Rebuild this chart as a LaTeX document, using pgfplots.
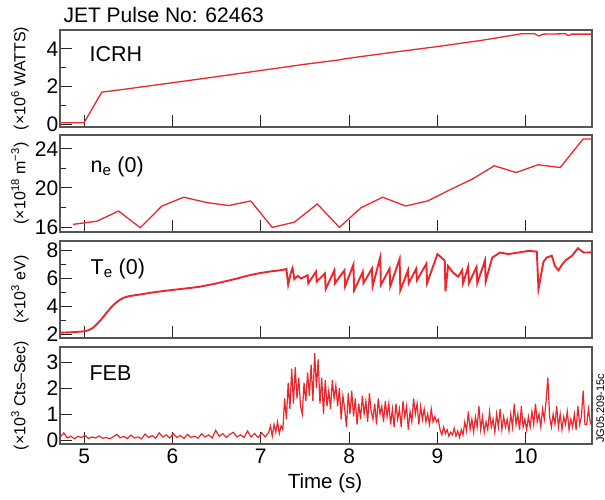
\documentclass[border=0pt]{standalone}
\usepackage{pgfplots}
\pgfplotsset{compat=1.18}
\usepackage{fontspec}
\setmainfont{Liberation Sans}
\definecolor{jetred}{RGB}{235,38,44}
\definecolor{axgray}{RGB}{85,85,85}
\pgfplotsset{
 panel/.style={
   scale only axis, width=532pt, height=97pt, anchor=south west,
   xmin=4.727, xmax=10.75, xtick={5,6,7,8,9,10},
   axis line style={axgray, line width=1.1pt},
   tick style={black!85, line width=0.9pt},
   major tick length=12pt, minor tick length=6pt,
   tick align=inside, xtick pos=bottom, ytick pos=left,
   tick label style={font=\fontsize{21}{24}\selectfont},
   yticklabel style={inner xsep=1.5pt},
   xticklabel style={inner ysep=5pt},
   /pgf/number format/assume math mode=true,
   every axis y label/.style={at={(axis description cs:0,0.5)}, xshift=-40pt, rotate=90, anchor=center, font=\fontsize{16}{18}\selectfont},
   clip=true,
 },
}
\tikzset{plab/.style={anchor=base west, font=\fontsize{21.5}{24}\selectfont}}
\begin{document}
\begin{tikzpicture}[x=1pt,y=1pt]
\useasboundingbox (0,0) rectangle (605,500);
\node[anchor=base west, inner sep=0pt, font=\fontsize{21}{24}\selectfont] at (63.3,477.3) {JET Pulse No: 62463};
% ICRH
\begin{axis}[panel, at={(60pt,373pt)}, ymin=-0.15, ymax=5.0, ytick={0,2,4}, minor ytick={1,3}, xticklabels={},
  ylabel={(×10\textsuperscript{6} WATTS)}]
\addplot[jetred, line width=1.3pt] table {
4.727 0.08
5.00 0.08
5.20 1.70
5.50 1.88
6.00 2.20
6.50 2.52
7.00 2.85
7.50 3.18
7.90 3.42
7.95 3.47
8.50 3.82
9.00 4.12
9.50 4.45
9.85 4.72
9.95 4.80
10.10 4.80
10.15 4.68
10.20 4.78
10.45 4.80
10.48 4.70
10.52 4.78
10.75 4.78
};
\node[plab] at (axis description cs:0.049,0.68) {ICRH};
\end{axis}
% ne
\begin{axis}[panel, at={(60pt,268pt)}, ymin=15.5, ymax=25.4, ytick={16,20,24}, minor ytick={18,22}, xticklabels={},
  ylabel={(×10\textsuperscript{18} m\textsuperscript{−3})}]
\addplot[jetred, line width=1.3pt] table {
4.875 16.28
5.144 16.60
5.390 17.64
5.636 15.93
5.880 18.15
6.128 19.05
6.390 18.50
6.640 18.20
6.886 18.67
7.130 15.97
7.380 16.50
7.640 18.36
7.890 15.97
8.136 17.98
8.380 19.05
8.640 18.15
8.890 18.67
9.140 19.80
9.395 20.90
9.644 22.26
9.890 21.57
10.140 22.36
10.390 22.08
10.650 25.00
10.760 25.00
};
\node[plab] at (axis description cs:0.051,0.615) {n\textsubscript{e} (0)};
\end{axis}
% Te
\begin{axis}[panel, at={(60pt,162pt)}, ymin=1.72, ymax=8.7, ytick={2,4,6,8}, minor ytick={3,5,7}, xticklabels={},
  ylabel={(×10\textsuperscript{3} eV)}]
\addplot[jetred, line width=1.9pt] table {
4.727 2.10
4.80 2.12
4.90 2.15
5.00 2.20
5.05 2.28
5.10 2.45
5.15 2.75
5.20 3.10
5.25 3.50
5.30 3.88
5.35 4.20
5.40 4.45
5.45 4.62
5.50 4.72
5.60 4.82
5.70 4.92
5.80 5.02
5.90 5.10
6.00 5.18
6.10 5.25
6.20 5.32
6.30 5.40
6.40 5.52
6.50 5.65
6.60 5.80
6.70 5.95
6.80 6.12
6.90 6.28
7.00 6.40
7.10 6.50
7.20 6.58
7.27 6.65
7.29 6.70
7.31 5.55
7.34 6.40
7.36 6.75
7.38 5.95
7.42 6.20
7.455 6.00
7.49 6.10
7.530 6.24
7.538 5.66
7.625 6.48
7.633 5.78
7.727 6.36
7.735 5.24
7.833 6.59
7.841 5.66
7.947 6.59
7.955 5.43
8.049 7.01
8.057 5.15
8.155 6.48
8.163 5.66
8.258 6.71
8.266 5.43
8.352 7.52
8.360 5.54
8.458 6.71
8.466 5.43
8.572 7.41
8.580 5.15
8.667 6.59
8.675 5.66
8.761 6.71
8.769 5.89
8.875 7.06
8.883 5.66
9.000 7.76
9.083 7.29
9.091 5.08
9.120 6.90
9.180 6.40
9.235 6.13
9.280 6.60
9.290 5.66
9.348 6.83
9.356 5.66
9.443 6.83
9.451 5.66
9.538 7.29
9.546 5.78
9.620 7.50
9.708 7.87
9.803 7.76
9.917 7.87
10.030 7.99
10.125 7.94
10.144 5.24
10.200 7.20
10.239 7.52
10.295 7.64
10.330 6.90
10.371 6.59
10.410 7.00
10.447 7.29
10.523 7.64
10.591 8.18
10.655 7.87
10.750 7.88
};
\node[plab] at (axis description cs:0.051,0.657) {T\textsubscript{e} (0)};
\end{axis}
% FEB
\begin{axis}[panel, at={(60pt,56pt)}, ymin=-0.15, ymax=3.58, ytick={0,1,2,3},
  ylabel={(×10\textsuperscript{3} Cts–Sec)}]
\addplot[jetred, line width=1.2pt] table {
4.73 0.12
4.77 0.28
4.81 0.08
4.85 0.15
4.89 0.05
4.93 0.14
4.97 0.10
5.01 0.18
5.05 0.06
5.09 0.12
5.13 0.08
5.17 0.16
5.21 0.07
5.25 0.10
5.29 0.05
5.33 0.13
5.37 0.22
5.41 0.09
5.45 0.14
5.49 0.06
5.53 0.19
5.57 0.08
5.61 0.12
5.65 0.05
5.69 0.23
5.73 0.10
5.77 0.17
5.81 0.07
5.85 0.28
5.89 0.12
5.93 0.20
5.97 0.08
6.01 0.25
6.05 0.10
6.09 0.18
6.13 0.06
6.17 0.22
6.21 0.10
6.25 0.15
6.29 0.07
6.33 0.24
6.37 0.12
6.41 0.20
6.45 0.08
6.49 0.38
6.53 0.14
6.57 0.25
6.61 0.10
6.65 0.22
6.69 0.30
6.73 0.12
6.77 0.20
6.81 0.10
6.85 0.35
6.89 0.12
6.93 0.25
6.97 0.10
7.01 0.28
7.05 0.12
7.09 0.30
7.11 0.55
7.13 0.15
7.15 0.60
7.17 0.30
7.19 0.70
7.21 0.25
7.23 0.55
7.25 0.40
7.27 1.60
7.29 0.80
7.31 2.20
7.33 1.20
7.35 2.75
7.37 1.40
7.39 2.80
7.41 1.60
7.43 2.40
7.45 1.30
7.47 1.00
7.49 2.20
7.51 1.50
7.53 2.60
7.55 1.70
7.57 2.90
7.59 1.50
7.61 3.35
7.63 2.00
7.65 3.10
7.67 1.40
7.69 2.40
7.71 1.00
7.73 2.30
7.75 1.30
7.77 1.90
7.79 1.20
7.81 2.30
7.83 1.60
7.85 2.10
7.87 1.30
7.89 2.00
7.91 0.80
7.93 1.70
7.95 1.20
7.97 0.50
7.99 1.80
8.01 1.00
8.03 1.90
8.05 0.90
8.07 1.60
8.09 0.60
8.11 1.40
8.13 0.80
8.15 1.70
8.17 1.00
8.19 1.50
8.21 0.70
8.23 1.80
8.25 1.10
8.27 0.80
8.29 1.40
8.31 0.60
8.33 1.60
8.35 1.00
8.37 1.30
8.39 0.70
8.41 1.50
8.43 0.90
8.45 1.40
8.47 0.60
8.49 1.20
8.51 0.50
8.53 1.40
8.55 0.80
8.57 1.20
8.59 0.50
8.61 1.50
8.63 0.90
8.65 1.30
8.67 0.40
8.69 1.10
8.71 0.70
8.73 1.60
8.75 1.00
8.77 1.40
8.79 0.60
8.81 1.30
8.83 0.80
8.85 1.20
8.87 0.70
8.89 1.00
8.91 0.60
8.93 1.20
8.95 0.70
8.97 0.90
8.99 0.70
9.01 0.80
9.03 0.40
9.05 0.20
9.07 0.50
9.09 0.25
9.11 0.40
9.13 0.15
9.15 0.30
9.17 0.20
9.19 0.45
9.21 0.15
9.23 0.35
9.25 0.10
9.27 0.40
9.29 0.20
9.31 0.70
9.33 0.35
9.35 1.10
9.37 0.40
9.39 0.80
9.41 0.30
9.43 0.90
9.45 0.50
9.47 1.30
9.49 0.40
9.51 0.90
9.53 0.30
9.55 0.70
9.57 0.40
9.59 1.10
9.61 0.50
9.63 0.80
9.65 0.30
9.67 1.00
9.69 0.50
9.71 1.20
9.73 0.40
9.75 0.90
9.77 0.50
9.79 0.80
9.81 0.35
9.83 1.00
9.85 0.50
9.87 1.40
9.89 0.60
9.91 1.00
9.93 0.40
9.95 1.30
9.97 0.50
9.99 0.80
10.01 0.40
10.03 0.90
10.05 0.50
10.07 1.10
10.09 0.60
10.11 1.40
10.13 0.70
10.15 1.00
10.17 0.50
10.19 1.20
10.21 0.80
10.23 1.50
10.25 2.40
10.27 0.90
10.29 0.50
10.31 1.00
10.33 0.60
10.35 1.30
10.37 0.50
10.39 1.00
10.41 0.40
10.43 0.90
10.45 0.60
10.47 1.10
10.49 0.40
10.51 0.80
10.53 0.50
10.55 1.00
10.57 0.40
10.59 1.30
10.61 0.60
10.63 0.90
10.65 1.90
10.67 0.60
10.69 0.60
10.71 1.20
10.73 0.70
10.75 0.50
};
\node[plab] at (axis description cs:0.049,0.653) {FEB};
\end{axis}
\node[anchor=base, inner sep=0pt, font=\fontsize{20.5}{24}\selectfont] at (325,11.7) {Time (s)};
\node[rotate=90, anchor=base west, inner sep=0pt, font=\fontsize{11}{13}\selectfont] at (604,57) {JG05.209-15c};
\end{tikzpicture}
\end{document}
